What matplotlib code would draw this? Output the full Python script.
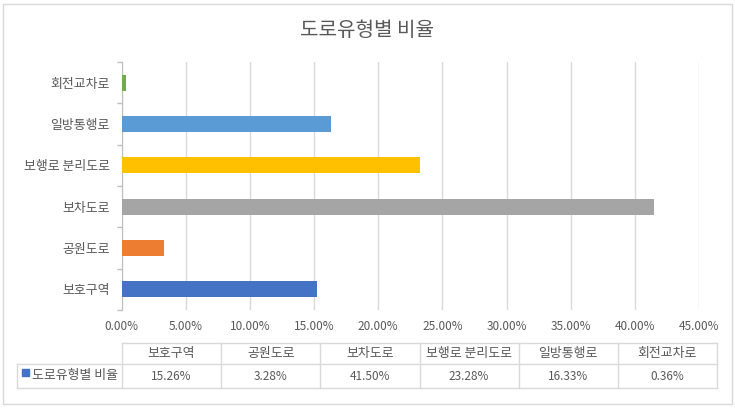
import matplotlib
matplotlib.use("Agg")
import matplotlib.pyplot as plt
from matplotlib.lines import Line2D
from matplotlib.patches import Rectangle
from matplotlib.ticker import FuncFormatter, MultipleLocator, FixedLocator

plt.rcParams['font.family'] = ['Noto Sans CJK KR', 'DejaVu Sans']

# 데이터
title = '도로유형별 비율'
series_name = '도로유형별 비율'
categories = ['보호구역', '공원도로', '보차도로', '보행로 분리도로', '일방통행로', '회전교차로']
values = [15.26, 3.28, 41.50, 23.28, 16.33, 0.36]
colors = ['#4472C4', '#ED7D31', '#A5A5A5', '#FFC000', '#5B9BD5', '#70AD47']

W, H = 735, 409
TXT = '#595959'
GRID = '#D9D9D9'

fig = plt.figure(figsize=(W / 100, H / 100), dpi=100)


def fx(px):
    return px / W


def fy(py):
    return 1 - py / H


# 플롯 영역
left, right, top, bottom = 121.5, 699, 62, 310
ax = fig.add_axes([fx(left), fy(bottom), fx(right - left), (bottom - top) / H])

pos = list(range(len(categories)))
ax.barh(pos, [v / 100 for v in values], height=0.39, color=colors, zorder=3)

ax.set_xlim(0, 0.45)
ax.set_ylim(-0.5, len(categories) - 0.5)
ax.xaxis.set_major_locator(MultipleLocator(0.05))
ax.xaxis.set_major_formatter(FuncFormatter(lambda x, p: f'{x * 100:.2f}%'))
ax.grid(axis='x', color=GRID, linewidth=1, zorder=0)

ax.set_yticks(pos)
ax.set_yticklabels(categories)
ax.yaxis.set_minor_locator(FixedLocator([p - 0.5 for p in pos] + [len(pos) - 0.5]))
ax.tick_params(axis='y', which='major', length=0, pad=8.5, labelsize=9.3, labelcolor=TXT)
ax.tick_params(axis='y', which='minor', length=3.5, color='#BFBFBF', width=1)
ax.tick_params(axis='x', length=0, pad=7, labelsize=8.5, labelcolor=TXT)

for s in ['top', 'right', 'bottom']:
    ax.spines[s].set_visible(False)
ax.spines['left'].set_color('#BFBFBF')

# 제목
fig.text(0.5, fy(30), title, ha='center', va='center', fontsize=14.5, color=TXT)

# 데이터 표
t_top, t_mid, t_bot = 343, 364, 388
t_left, c0 = 17, 122
t_right = 717
cw = (t_right - c0) / len(categories)


def hline(y, x0, x1):
    fig.add_artist(Line2D([fx(x0), fx(x1)], [fy(y), fy(y)], color=GRID, linewidth=1))


def vline(x, y0, y1):
    fig.add_artist(Line2D([fx(x), fx(x)], [fy(y0), fy(y1)], color=GRID, linewidth=1))


hline(t_top, c0, t_right)
hline(t_mid, t_left, t_right)
hline(t_bot, t_left, t_right)
vline(t_left, t_mid, t_bot)
for i in range(len(categories) + 1):
    vline(c0 + i * cw, t_top, t_bot)

for i, (c, v) in enumerate(zip(categories, values)):
    cx = c0 + (i + 0.5) * cw
    fig.text(fx(cx), fy((t_top + t_mid) / 2), c, ha='center', va='center', fontsize=9.3, color=TXT)
    fig.text(fx(cx), fy((t_mid + t_bot) / 2), f'{v:.2f}%', ha='center', va='center', fontsize=8.5, color=TXT)

# 범례 키
fig.add_artist(Rectangle((fx(22), fy(376)), fx(7), 7 / H, color=colors[0]))
fig.text(fx(32), fy((t_mid + t_bot) / 2), series_name, ha='left', va='center', fontsize=9.3, color=TXT)

# 차트 테두리
fig.add_artist(Rectangle((fx(3), fy(404)), fx(729), 400 / H, fill=False, edgecolor=GRID, linewidth=1))

fig.savefig('out.png', dpi=100, facecolor='white')
